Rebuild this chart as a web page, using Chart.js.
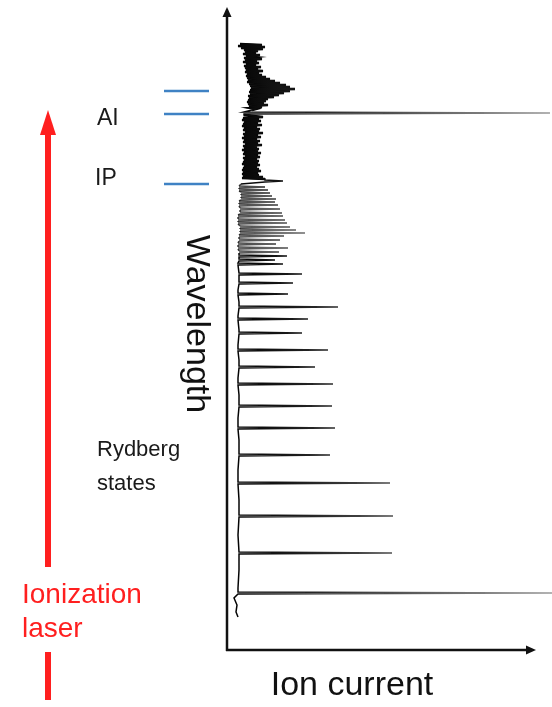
<!DOCTYPE html>
<html>
<head>
<meta charset="utf-8">
<script src="https://cdn.jsdelivr.net/npm/chart.js@4/dist/chart.umd.min.js"></script>
<style>
html,body{margin:0;padding:0;background:#fff;}
canvas{display:block;}
</style>
</head>
<body>
<canvas id="c" width="552" height="707"></canvas>
<script>
// ---- Data (arbitrary units: wavelength up, ion current right) ----
// Noisy autoionization region, above and below the AI line
const bandWavelength = [606,605,604,603,602,601,600,599,598,597,596,595,594,593,592,591,590,589,588,587,586,585,584,583,582,581,580,579,578,577,576,575,574,573,572,571,570,569,568,567,566,565,564,563,562,561,560,559,558,557,556,555,554,553,552,551,550,549,548,547,546,545,544,543,542,541,540,
  535,533,532,531,530,529,528,527,526,525,524,523,522,521,520,519,518,517,516,515,514,513,512,511,510,509,508,507,506,505,504,503,502,501,500,499,498,497,496,495,494,493,492,491,490,489,488,487,486,485,484,483,482,481,480,479,478,477,476,475,474,473,472,471];
const bandCurrent = [13,35,11,38,14,36,17,31,18,29,16,33,19,28,17,35,18,30,16,32,19,29,17,34,18,31,19,36,18,32,20,35,19,39,20,43,21,48,20,53,22,59,23,63,24,68,23,63,22,57,23,52,21,47,22,41,21,39,20,37,21,41,22,35,23,29,25,
  17,36,16,32,15,34,17,31,16,35,15,30,17,33,16,32,18,36,16,31,17,34,15,30,17,33,16,31,18,35,16,30,17,32,15,31,17,34,16,31,18,33,16,30,17,32,16,31,15,33,17,30,16,32,15,34,16,31,15,32,16,36,15,38];
// Sharp lines (AI resonance, IP, Rydberg series): position and peak current
const lineWavelength = [537,469,463,460,457,454,451,448,445,441,437,434,430,427,423,420,417,414,410,406,402,398,394,390,386,376,367,356,343,331,317,300,283,266,244,222,195,167,134,97,57];
const linePeak       = [323,56,38,41,43,45,49,48,51,53,55,56,58,60,63,69,78,57,53,49,61,52,60,48,56,75,66,61,111,81,75,101,88,106,105,108,103,163,166,165,325];
// Baseline below the IP
const baseWavelength = [466,462,455,447,439,431,422,412,405,395,385,372,360,348,334,320,305,290,272,255,232,210,180,150,115,80,62,52,45,38,33];
const baseCurrent    = [14,12,14,12,13,11,13,12,11,12,11,12,11,12,11,12,11,12,11,12,11,12,11,12,11,12,11,7,10,9,11];
// Energy levels drawn at the left
const levelNames = ['', 'AI', 'IP'];
const levelWavelength = [559, 536, 466];
const xTitle = 'Ion current';
const yTitle = 'Wavelength';
const seriesNote = ['Rydberg', 'states'];
const laserNote = ['Ionization', 'laser'];

// ---- Build the trace (ordered by wavelength) ----
const band = bandWavelength.map((w, i) => ({x: bandCurrent[i], y: w}));
const bg = band.concat(baseWavelength.map((w, i) => ({x: baseCurrent[i], y: w})));
function footAt(w) {
  let best = bg[0];
  for (const p of bg) if (Math.abs(p.y - w) < Math.abs(best.y - w)) best = p;
  return best.x;
}
let trace = bg.slice();
lineWavelength.forEach((w, i) => {
  const f = footAt(w);
  trace.push({x: f, y: w + 1}, {x: linePeak[i], y: w}, {x: f, y: w - 1});
});
trace.sort((a, b) => b.y - a.y);
const bandUpper = band.filter(p => p.y >= 540);
const bandLower = band.filter(p => p.y <= 535);

const FONT = '"Liberation Sans", Arial, Helvetica, sans-serif';

const annotate = {
  id: 'annotate',
  afterDraw(chart) {
    const c = chart.ctx, a = chart.chartArea, ys = chart.scales.y;
    c.save();
    // axes with arrows
    c.strokeStyle = '#111'; c.fillStyle = '#111'; c.lineWidth = 2.5;
    const ox = a.left, oy = a.bottom, xEnd = a.right - 16;
    c.beginPath(); c.moveTo(ox, oy + 1); c.lineTo(ox, a.top + 8); c.stroke();
    c.beginPath(); c.moveTo(ox, a.top); c.lineTo(ox - 4.5, a.top + 10); c.lineTo(ox + 4.5, a.top + 10); c.closePath(); c.fill();
    c.beginPath(); c.moveTo(ox - 1, oy); c.lineTo(xEnd - 8, oy); c.stroke();
    c.beginPath(); c.moveTo(xEnd, oy); c.lineTo(xEnd - 10, oy - 4.5); c.lineTo(xEnd - 10, oy + 4.5); c.closePath(); c.fill();

    // energy levels
    c.strokeStyle = '#3f82c4'; c.lineWidth = 2.4;
    c.font = '23px ' + FONT; c.fillStyle = '#1a1a1a'; c.textBaseline = 'alphabetic'; c.textAlign = 'left';
    levelWavelength.forEach((w, i) => {
      const y = ys.getPixelForValue(w);
      c.beginPath(); c.moveTo(ox - 63, y); c.lineTo(ox - 18, y); c.stroke();
      if (levelNames[i] === 'AI') c.fillText(levelNames[i], 97, y + 11);
      else if (levelNames[i]) c.fillText(levelNames[i], 95, y + 1);
    });

    // axis titles
    c.fillStyle = '#111';
    c.font = '34px ' + FONT;
    c.textAlign = 'center';
    c.fillText(xTitle, 352, 695);
    c.save();
    c.translate(187, 324); c.rotate(Math.PI / 2);
    c.fillText(yTitle, 0, 0);
    c.restore();

    // Rydberg states note
    c.font = '22px ' + FONT; c.textAlign = 'left'; c.fillStyle = '#1a1a1a';
    c.fillText(seriesNote[0], 97, 456);
    c.fillText(seriesNote[1], 97, 490);

    // ionization laser arrow
    const red = '#ff1f1f';
    c.fillStyle = red; c.strokeStyle = red;
    c.font = '28px ' + FONT;
    c.fillText(laserNote[0], 22, 603);
    c.fillText(laserNote[1], 22, 637);
    c.lineWidth = 6;
    c.beginPath(); c.moveTo(48, 567); c.lineTo(48, 128); c.stroke();
    c.beginPath(); c.moveTo(48, 110); c.lineTo(40, 135); c.lineTo(56, 135); c.closePath(); c.fill();
    c.beginPath(); c.moveTo(48, 652); c.lineTo(48, 700); c.stroke();
    c.restore();
  }
};

const grad = (ctx) => {
  const ch = ctx.chart, area = ch.chartArea;
  if (!area) return '#000';
  const g = ch.ctx.createLinearGradient(area.left, 0, area.right, 0);
  g.addColorStop(0, '#000');
  g.addColorStop(0.2, '#1a1a1a');
  g.addColorStop(0.45, 'rgba(50,50,50,0.9)');
  g.addColorStop(1, 'rgba(120,120,120,0.75)');
  return g;
};
const denseGray = (ctx) => {
  const ch = ctx.chart, area = ch.chartArea;
  const g = ch.ctx.createLinearGradient(area.left, 0, area.left + 90, 0);
  g.addColorStop(0, 'rgba(20,20,20,0.9)');
  g.addColorStop(1, 'rgba(110,110,110,0.55)');
  return g;
};

new Chart(document.getElementById('c'), {
  type: 'scatter',
  data: {
    datasets: [
      {data: trace, showLine: true, pointRadius: 0, borderWidth: 1.5, tension: 0, borderColor: grad,
       segment: {borderColor: (s) => (s.p0.parsed.y < 468 && s.p0.parsed.y > 396 && s.p1.parsed.y > 396) ? denseGray(s) : undefined}},
      {data: bandUpper, showLine: true, pointRadius: 0, borderWidth: 2.4, tension: 0, borderColor: '#000'},
      {data: bandLower, showLine: true, pointRadius: 0, borderWidth: 2.4, tension: 0, borderColor: '#000'}
    ]
  },
  options: {
    responsive: false,
    animation: false,
    devicePixelRatio: 1,
    layout: {padding: {left: 227, top: 7, right: 0, bottom: 57}},
    plugins: {legend: {display: false}, tooltip: {enabled: false}},
    scales: {
      x: {type: 'linear', min: 0, max: 325, display: false},
      y: {type: 'linear', min: 0, max: 643, display: false}
    }
  },
  plugins: [annotate]
});
</script>
</body>
</html>
